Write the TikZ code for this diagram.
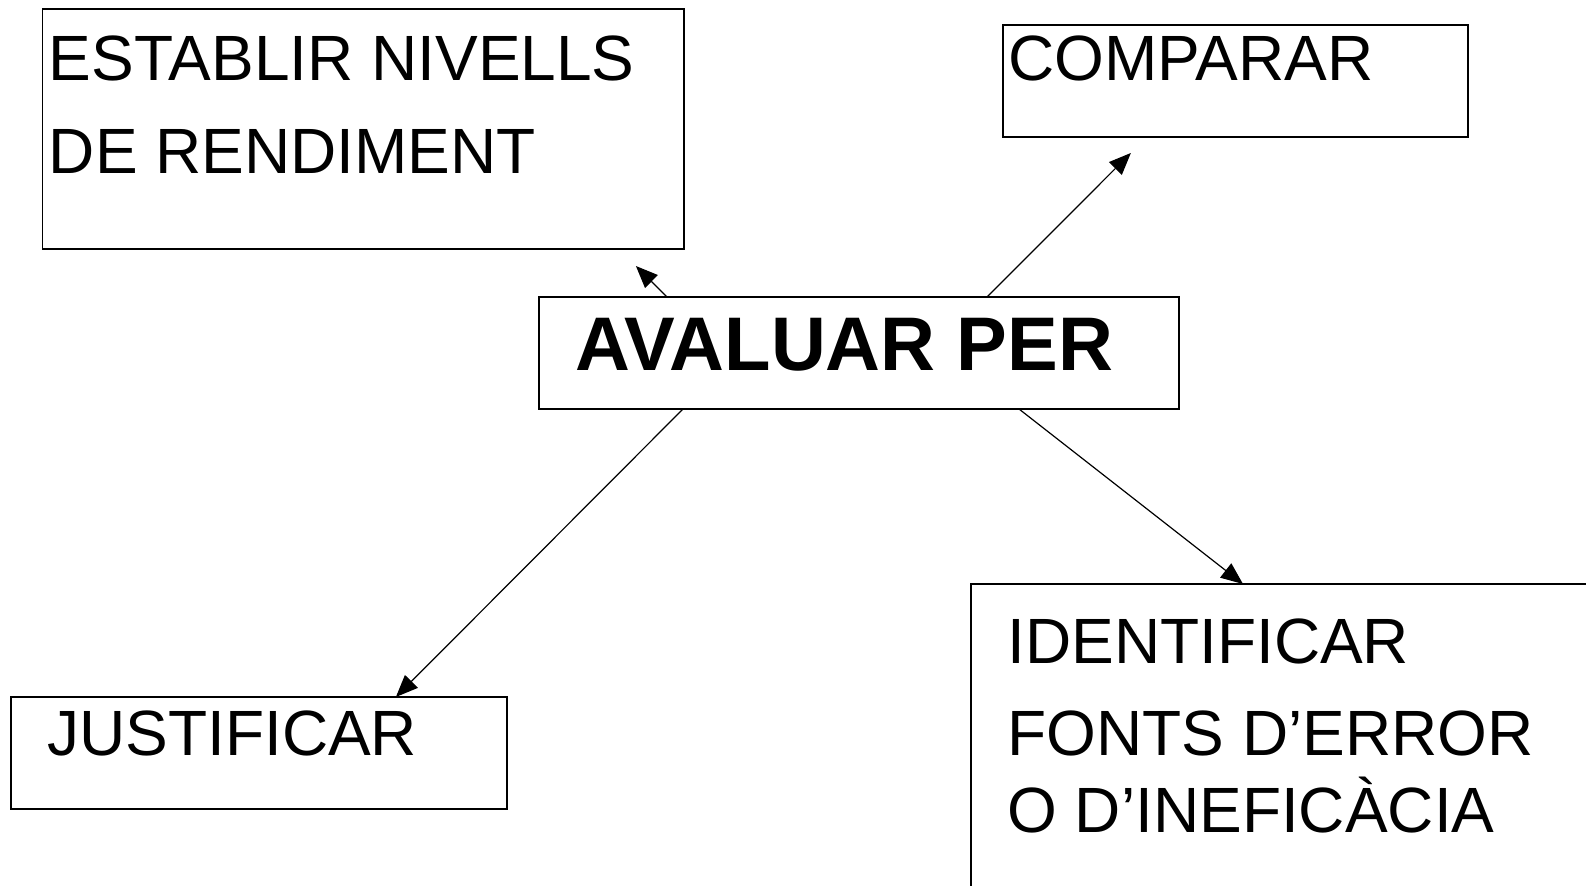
\documentclass[tikz,border=0pt]{standalone}
\usepackage{fontspec}
\setmainfont{Liberation Sans}
\usetikzlibrary{arrows.meta,calc}

\tikzset{
  caixa/.style={draw, line width=0.8pt, rectangle, inner sep=0pt, outer sep=0pt, anchor=north west},
  texte/.style={anchor=base west, inner sep=0pt, align=left, font=\fontsize{32pt}{46.5pt}\selectfont},
  fletxa/.style={line width=0.6pt, -{Triangle[length=11pt,width=9pt]}}
}

\begin{document}
\begin{tikzpicture}[x=0.5pt,y=-0.5pt]
\useasboundingbox (0,0) rectangle (1586,886);
\clip (0,0) rectangle (1586,886);
% caixes
\node[caixa, minimum width=320.75pt, minimum height=120pt] (establir) at (42.5,9) {};
\node[caixa, minimum width=232.5pt, minimum height=56pt] (comparar) at (1003,25) {};
\node[caixa, minimum width=320pt, minimum height=56pt] (avaluar) at (539,297) {};
\node[caixa, minimum width=248pt, minimum height=56pt] (justificar) at (11,697) {};
\node[caixa, minimum width=350pt, minimum height=200pt] (identificar) at (971,584) {};
% textos (base = darrera linia)
\node[texte] (establirtxt) at ($(establir.north west)+(6,165)$) {ESTABLIR NIVELLS\\DE RENDIMENT};
\node[texte] (comparartxt) at ($(comparar.north west)+(5,56)$) {COMPARAR};
\node[texte, font=\fontsize{38pt}{46pt}\selectfont\bfseries] (avaluartxt) at ($(avaluar.north west)+(36,74)$) {AVALUAR PER};
\node[texte] (justificartxt) at ($(justificar.north west)+(36,59)$) {JUSTIFICAR};
\node[texte] (identificartxt) at ($(identificar.north west)+(36,249)$) {IDENTIFICAR\\[-0.5pt]FONTS D’ERROR\\[-8pt]O D’INEFICÀCIA};
% fletxes
\coordinate (fiestablir) at ($(establir.south west)!0.925!(establir.south east)+(0,17)$);
\coordinate (ficomparar) at ($(comparar.south west)!0.275!(comparar.south east)+(0,16)$);
\draw[fletxa] ($(avaluar.north west)!0.2!(avaluar.north east)$) -- (fiestablir);
\draw[fletxa] ($(avaluar.north west)!0.7!(avaluar.north east)$) -- (ficomparar);
\draw[fletxa] ($(avaluar.south west)!0.75!(avaluar.south east)$) -- ([xshift=136pt]identificar.north west);
\draw[fletxa] ($(avaluar.south west)!0.225!(avaluar.south east)$) -- ($(justificar.north west)!0.776!(justificar.north east)$);
\end{tikzpicture}
\end{document}
